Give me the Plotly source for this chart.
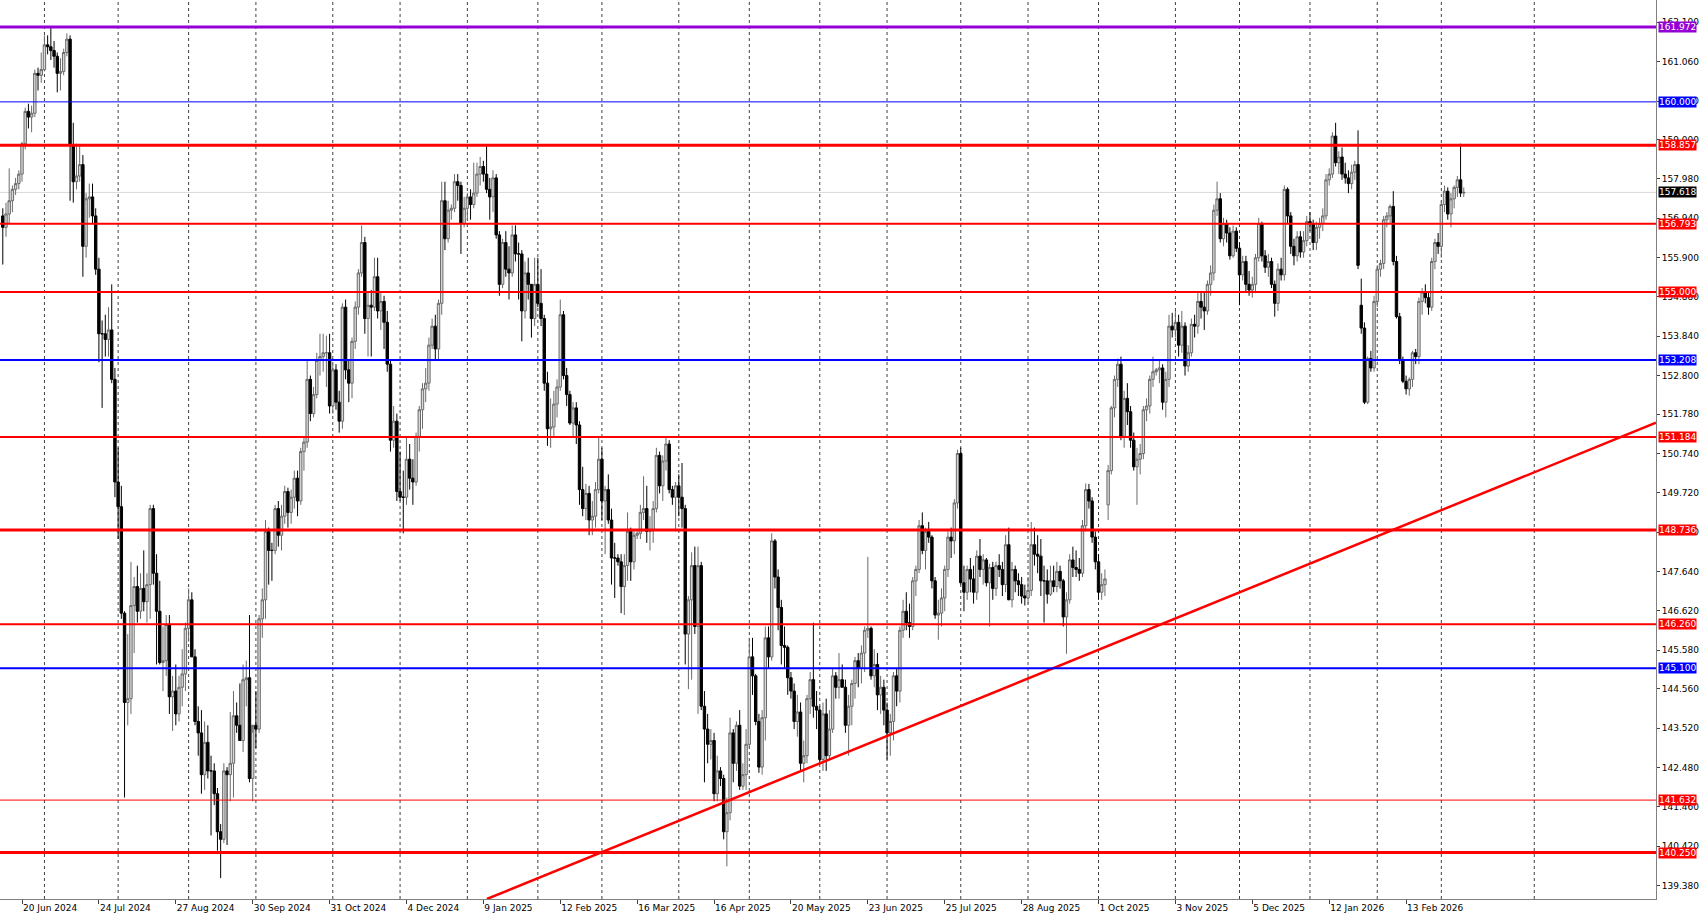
import plotly.graph_objects as go

# Daily USD/JPY bars, one tuple per bar: (open, high, low, close)
JUN_2024 = [
    (157.00, 157.20, 155.72, 156.70), (156.70, 157.35, 156.45, 157.05), (157.05, 158.25, 156.80, 157.40),
    (157.40, 157.80, 157.10, 157.70), (157.70, 158.00, 157.55, 157.85), (157.85, 158.20, 157.70, 158.10),
    (158.10, 158.95, 157.90, 158.90), (158.90, 159.85, 158.75, 159.75), (159.75, 159.95, 159.30, 159.60),
    (159.60, 159.90, 159.20, 159.70), (159.70, 160.85, 159.60, 160.75), (160.75, 160.90, 160.30, 160.70),
    (160.70, 161.30, 160.50, 160.85),
]
JUL_2024 = [
    (160.85, 161.75, 160.80, 161.50), (161.50, 161.75, 161.25, 161.45), (161.45, 161.95, 161.10, 161.35),
    (161.35, 161.60, 160.90, 161.20), (161.20, 161.30, 160.25, 160.75), (160.75, 161.15, 160.30, 160.80),
    (160.80, 161.40, 160.70, 161.30), (161.30, 161.80, 161.20, 161.65), (161.65, 161.75, 157.40, 158.85),
    (158.85, 159.45, 157.35, 157.90), (157.90, 158.90, 157.70, 158.05), (158.05, 158.85, 157.90, 158.35),
    (158.35, 158.60, 155.40, 156.20), (156.20, 157.60, 155.90, 157.45), (157.45, 157.85, 156.95, 157.50),
    (157.50, 157.85, 156.80, 157.00), (157.00, 157.20, 155.45, 155.60), (155.60, 155.90, 153.15, 153.90),
    (153.90, 154.25, 151.95, 153.90), (153.90, 154.40, 153.30, 153.75), (153.75, 154.60, 153.30, 154.00),
    (154.00, 155.20, 152.60, 152.70), (152.70, 153.00, 149.60, 150.00),
]
AUG_2024 = [
    (150.00, 150.90, 148.50, 149.35), (149.35, 149.90, 146.40, 146.55), (146.55, 146.60, 141.70, 144.20),
    (144.20, 146.00, 143.60, 144.30), (144.30, 147.90, 143.90, 146.75), (146.75, 147.50, 145.50, 147.25),
    (147.25, 147.80, 146.30, 146.60), (146.60, 147.60, 146.40, 147.20), (147.20, 148.20, 146.60, 146.85),
    (146.85, 147.60, 146.30, 147.30), (147.30, 149.40, 146.40, 149.30), (149.30, 149.40, 147.30, 147.60),
    (147.60, 148.10, 145.20, 146.60), (146.60, 147.40, 145.20, 145.25), (145.25, 146.20, 144.50, 145.30),
    (145.30, 146.50, 144.90, 146.25), (146.25, 146.50, 143.90, 144.35), (144.35, 144.90, 143.45, 144.50),
    (144.50, 145.20, 143.60, 143.90), (143.90, 144.90, 143.70, 144.60), (144.60, 145.60, 144.10, 144.95),
    (144.95, 146.30, 144.50, 146.15),
]
SEP_2024 = [
    (146.15, 147.20, 145.80, 146.90), (146.90, 147.10, 145.40, 145.40), (145.40, 145.60, 143.60, 143.70),
    (143.70, 144.10, 142.80, 143.40), (143.40, 144.00, 141.80, 142.30), (142.30, 143.70, 141.90, 143.15),
    (143.15, 143.60, 142.20, 142.40), (142.40, 142.80, 140.70, 142.40), (142.40, 142.60, 141.50, 141.80),
    (141.80, 141.95, 140.30, 140.80), (140.80, 141.00, 139.58, 140.60), (140.60, 142.60, 140.50, 142.40),
    (142.40, 142.50, 140.45, 142.30), (142.30, 143.95, 141.60, 142.60), (142.60, 144.50, 141.70, 143.85),
    (143.85, 144.20, 143.40, 143.60), (143.60, 144.70, 143.20, 143.20), (143.20, 145.20, 142.90, 144.80),
    (144.80, 145.30, 144.10, 144.85), (144.85, 146.50, 142.10, 142.20), (142.20, 143.40, 141.60, 143.60),
]
OCT_2024 = [
    (143.60, 144.50, 143.00, 143.50), (143.50, 146.50, 143.40, 146.40), (146.40, 147.20, 145.90, 146.90),
    (146.90, 149.00, 146.40, 148.70), (148.70, 148.80, 147.30, 148.20), (148.20, 148.40, 147.40, 148.20),
    (148.20, 149.40, 148.10, 149.30), (149.30, 149.50, 148.30, 148.60), (148.60, 149.40, 148.20, 149.10),
    (149.10, 149.90, 148.90, 149.75), (149.75, 149.85, 148.80, 149.20), (149.20, 149.80, 148.90, 149.60),
    (149.60, 150.30, 149.30, 150.10), (150.10, 150.30, 149.10, 149.50), (149.50, 150.90, 149.40, 150.80),
    (150.80, 151.20, 150.30, 151.05), (151.05, 153.20, 150.90, 152.70), (152.70, 152.80, 151.60, 151.80),
    (151.80, 152.50, 151.70, 152.30), (152.30, 153.40, 152.20, 153.20), (153.20, 153.90, 152.80, 153.30),
    (153.30, 153.90, 152.90, 153.40), (153.40, 153.85, 152.50, 153.40), (153.40, 153.90, 151.80, 152.00),
]
NOV_2024 = [
    (152.00, 153.10, 151.80, 152.95), (152.95, 153.10, 151.90, 152.10), (152.10, 152.40, 151.30, 151.60),
    (151.60, 154.70, 151.40, 154.60), (154.60, 154.80, 152.70, 152.95), (152.95, 153.20, 152.10, 152.60),
    (152.60, 153.80, 152.20, 153.70), (153.70, 154.75, 153.50, 154.60), (154.60, 155.60, 154.40, 155.50),
    (155.50, 156.75, 155.40, 156.30), (156.30, 156.45, 153.90, 154.30), (154.30, 155.00, 153.30, 154.65),
    (154.65, 155.05, 153.30, 154.60), (154.60, 155.90, 154.50, 155.40), (155.40, 155.90, 154.30, 154.50),
    (154.50, 155.00, 154.00, 154.75), (154.75, 154.90, 153.50, 154.20), (154.20, 154.50, 152.90, 153.10),
    (153.10, 153.20, 150.80, 151.10), (151.10, 152.00, 150.90, 151.60), (151.60, 151.80, 149.50, 149.75),
]
DEC_2024 = [
    (149.75, 150.80, 149.50, 149.60), (149.60, 150.30, 148.65, 149.60), (149.60, 151.20, 149.40, 150.60),
    (150.60, 151.00, 149.80, 150.10), (150.10, 150.60, 149.40, 150.00), (150.00, 151.30, 149.90, 151.20),
    (151.20, 152.00, 150.80, 151.90), (151.90, 152.60, 151.40, 152.45), (152.45, 153.00, 152.10, 152.60),
    (152.60, 153.80, 152.40, 153.60), (153.60, 154.30, 153.50, 154.10), (154.10, 154.40, 153.20, 153.50),
    (153.50, 154.80, 153.20, 154.70), (154.70, 157.90, 154.40, 157.40), (157.40, 157.90, 156.10, 156.40),
    (156.40, 157.40, 156.30, 157.15), (157.15, 157.30, 156.90, 157.20), (157.20, 158.10, 157.10, 157.90),
    (157.90, 158.10, 157.40, 157.80), (157.80, 157.90, 156.00, 156.80), (156.80, 157.50, 156.70, 157.20),
]
JAN_2025 = [
    (157.20, 157.60, 156.90, 157.50), (157.50, 157.70, 156.90, 157.30), (157.30, 158.40, 157.20, 157.60),
    (157.60, 158.40, 157.50, 158.10), (158.10, 158.55, 157.80, 158.30), (158.30, 158.45, 157.90, 158.10),
    (158.10, 158.87, 157.60, 157.70), (157.70, 158.00, 156.90, 157.50), (157.50, 158.20, 157.10, 158.00),
    (158.00, 158.10, 156.40, 156.50), (156.50, 156.60, 154.90, 155.20), (155.20, 156.40, 155.10, 156.30),
    (156.30, 156.60, 155.40, 155.60), (155.60, 156.20, 154.80, 155.50), (155.50, 156.75, 155.40, 156.50),
    (156.50, 156.75, 155.80, 156.00), (156.00, 156.30, 154.80, 156.00), (156.00, 156.10, 153.70, 154.50),
    (154.50, 155.80, 154.30, 155.50), (155.50, 155.90, 154.80, 155.20), (155.20, 155.20, 153.80, 154.30),
    (154.30, 155.90, 154.10, 155.20),
]
FEB_2025 = [
    (155.20, 155.90, 154.60, 154.70), (154.70, 155.60, 154.10, 154.30), (154.30, 154.40, 152.40, 152.60),
    (152.60, 152.90, 150.95, 151.40), (151.40, 152.20, 150.90, 151.45), (151.45, 152.40, 151.20, 152.05),
    (152.05, 152.70, 151.70, 152.50), (152.50, 154.80, 152.40, 154.40), (154.40, 154.50, 152.70, 152.80),
    (152.80, 153.00, 152.00, 152.30), (152.30, 152.40, 151.50, 151.55), (151.55, 152.10, 151.20, 151.95),
    (151.95, 152.10, 151.00, 151.50), (151.50, 151.60, 149.40, 149.80), (149.80, 150.40, 149.10, 149.30),
    (149.30, 149.95, 149.00, 149.70), (149.70, 149.90, 148.60, 149.00), (149.00, 149.50, 148.60, 149.10),
    (149.10, 150.00, 148.80, 149.80), (149.80, 151.20, 149.70, 150.60),
]
MAR_2025 = [
    (150.60, 150.90, 149.00, 149.50), (149.50, 149.90, 148.10, 149.80), (149.80, 150.20, 148.90, 149.00),
    (149.00, 149.30, 147.30, 148.00), (148.00, 148.40, 146.95, 148.00), (148.00, 148.10, 147.80, 147.90),
    (147.90, 148.10, 146.55, 147.25), (147.25, 148.10, 146.50, 147.80), (147.80, 149.20, 147.40, 148.70),
    (148.70, 148.80, 147.40, 147.90), (147.90, 148.70, 147.70, 148.60), (148.60, 148.70, 148.50, 148.65),
    (148.65, 149.40, 148.50, 149.20), (149.20, 150.15, 149.00, 149.30), (149.30, 149.90, 148.40, 148.70),
    (148.70, 149.10, 148.20, 148.75), (148.75, 149.50, 148.40, 149.30), (149.30, 150.90, 149.20, 150.70),
    (150.70, 150.80, 149.70, 149.90), (149.90, 150.70, 149.50, 150.55), (150.55, 151.20, 150.30, 151.00),
    (151.00, 151.10, 149.70, 149.80), (149.80, 149.90, 149.40, 149.60), (149.60, 150.00, 148.70, 149.90),
]
APR_2025 = [
    (149.90, 150.20, 149.10, 149.60), (149.60, 150.50, 148.80, 149.30), (149.30, 149.40, 145.20, 146.00),
    (146.00, 147.00, 144.55, 146.90), (146.90, 148.15, 144.80, 147.80), (147.80, 148.30, 146.00, 146.20),
    (146.20, 148.30, 143.90, 147.80), (147.80, 147.90, 144.00, 144.10), (144.10, 144.50, 142.10, 143.50),
    (143.50, 143.90, 142.60, 143.10), (143.10, 143.50, 142.70, 143.20), (143.20, 143.40, 141.60, 141.80),
    (141.80, 142.80, 141.60, 142.40), (142.40, 142.50, 142.00, 142.20), (142.20, 142.30, 140.60, 140.80),
    (140.80, 141.70, 139.89, 141.30), (141.30, 143.80, 141.10, 143.40), (143.40, 143.50, 142.10, 142.60),
    (142.60, 143.70, 142.40, 143.60), (143.60, 144.00, 141.90, 142.00), (142.00, 142.60, 141.90, 142.30),
    (142.30, 143.50, 141.90, 143.10),
]
MAY_2025 = [
    (143.10, 145.90, 143.00, 145.40), (145.40, 145.90, 144.40, 144.90), (144.90, 144.95, 143.60, 143.70),
    (143.70, 143.90, 142.35, 142.50), (142.50, 144.00, 142.30, 143.80), (143.80, 146.20, 143.20, 145.90),
    (145.90, 146.20, 145.10, 145.40), (145.40, 148.65, 145.30, 148.45), (148.45, 148.50, 147.20, 147.50),
    (147.50, 147.70, 146.10, 146.70), (146.70, 146.90, 145.20, 145.70), (145.70, 146.20, 145.10, 145.65),
    (145.65, 145.70, 144.40, 144.85), (144.85, 145.00, 144.30, 144.50), (144.50, 144.70, 143.50, 143.70),
    (143.70, 144.40, 143.30, 143.95), (143.95, 144.20, 142.40, 142.60), (142.60, 143.20, 142.10, 142.80),
    (142.80, 144.40, 142.60, 144.30), (144.30, 145.00, 143.90, 144.80), (144.80, 146.30, 143.80, 144.10),
    (144.10, 144.50, 143.50, 144.00),
]
JUN_2025 = [
    (144.00, 144.10, 142.60, 142.70), (142.70, 144.20, 142.40, 143.90), (143.90, 144.30, 142.40, 142.80),
    (142.80, 144.00, 142.70, 143.50), (143.50, 145.10, 143.40, 144.90), (144.90, 145.00, 144.30, 144.60),
    (144.60, 145.50, 144.30, 144.80), (144.80, 145.20, 144.60, 144.60), (144.60, 144.80, 143.40, 143.60),
    (143.60, 144.40, 142.80, 144.10), (144.10, 144.80, 143.60, 144.70), (144.70, 145.40, 144.30, 145.30),
    (145.30, 145.50, 144.60, 145.10), (145.10, 145.70, 144.70, 145.50), (145.50, 146.20, 145.00, 146.10),
    (146.10, 148.03, 145.90, 146.15), (146.15, 146.20, 144.80, 144.90), (144.90, 145.60, 144.60, 145.20),
    (145.20, 145.50, 144.00, 144.40), (144.40, 144.90, 143.90, 144.60), (144.60, 144.80, 143.60, 144.00),
]
JUL_2025 = [
    (144.00, 144.20, 142.70, 143.40), (143.40, 143.90, 142.80, 143.70), (143.70, 145.00, 143.20, 144.90),
    (144.90, 145.10, 144.10, 144.50), (144.50, 146.20, 144.20, 146.10), (146.10, 146.90, 145.90, 146.60),
    (146.60, 147.10, 146.10, 146.30), (146.30, 146.80, 145.90, 146.20), (146.20, 147.50, 146.10, 147.40),
    (147.40, 147.80, 147.00, 147.70), (147.70, 149.00, 147.60, 148.85), (148.85, 149.20, 148.10, 148.20),
    (148.20, 148.80, 147.70, 148.70), (148.70, 148.95, 148.40, 148.55), (148.55, 148.60, 147.20, 147.40),
    (147.40, 147.50, 146.40, 146.50), (146.50, 146.90, 145.85, 146.55), (146.55, 147.20, 146.20, 146.95),
    (146.95, 147.80, 146.60, 147.70), (147.70, 148.70, 147.50, 148.55), (148.55, 148.80, 148.00, 148.45),
    (148.45, 149.55, 148.10, 149.45), (149.45, 150.85, 149.30, 150.75),
]
AUG_2025 = [
    (150.75, 150.90, 147.30, 147.35), (147.35, 147.80, 146.60, 147.10), (147.10, 147.80, 146.90, 147.70),
    (147.70, 148.00, 147.10, 147.45), (147.45, 147.80, 146.80, 147.10), (147.10, 148.20, 146.90, 148.05),
    (148.05, 148.50, 147.50, 147.70), (147.70, 148.10, 147.30, 147.95), (147.95, 148.00, 147.25, 147.35),
    (147.35, 147.85, 146.20, 147.75), (147.75, 147.90, 146.90, 147.20), (147.20, 147.90, 147.00, 147.80),
    (147.80, 148.10, 147.50, 147.70), (147.70, 147.90, 147.00, 147.30), (147.30, 148.60, 147.10, 148.35),
    (148.35, 148.80, 146.90, 146.90), (146.90, 147.90, 146.70, 147.70), (147.70, 147.80, 147.10, 147.40),
    (147.40, 147.60, 147.00, 147.30), (147.30, 147.50, 146.80, 147.00), (147.00, 147.30, 146.75, 146.95),
]
SEP_2025 = [
    (146.95, 147.50, 146.80, 147.15), (147.15, 148.95, 147.00, 148.35), (148.35, 148.80, 147.80, 148.10),
    (148.10, 148.60, 147.60, 148.05), (148.05, 148.50, 147.00, 147.40), (147.40, 147.80, 146.30, 147.40),
    (147.40, 147.70, 146.80, 147.05), (147.05, 147.80, 147.00, 147.40), (147.40, 147.80, 147.10, 147.25),
    (147.25, 147.90, 147.10, 147.65), (147.65, 147.80, 147.20, 147.40), (147.40, 147.45, 146.20, 146.45),
    (146.45, 147.10, 145.48, 146.90), (146.90, 148.10, 146.80, 147.95), (147.95, 148.30, 147.50, 147.75),
    (147.75, 148.20, 147.50, 147.70), (147.70, 148.00, 147.40, 147.60), (147.60, 149.00, 147.50, 148.85),
    (148.85, 149.96, 148.70, 149.80), (149.80, 149.95, 149.30, 149.50), (149.50, 149.60, 148.40, 148.55),
    (148.55, 148.70, 147.70, 147.90),
]
OCT_2025 = [
    (147.90, 148.10, 146.90, 147.10), (147.10, 147.60, 146.90, 147.30), (147.30, 147.70, 147.00, 147.45),
    (149.40, 150.45, 149.00, 150.30), (150.30, 152.00, 150.20, 151.95), (151.95, 152.80, 151.70, 152.70),
    (152.70, 153.25, 152.50, 153.10), (153.10, 153.30, 151.10, 151.20), (151.20, 152.40, 150.90, 152.20),
    (152.20, 152.60, 151.50, 151.85), (151.85, 152.00, 150.90, 151.10), (151.10, 151.30, 150.30, 150.40),
    (150.40, 150.90, 149.40, 150.60), (150.60, 151.00, 150.20, 150.75), (150.75, 152.00, 150.60, 151.90),
    (151.90, 152.20, 151.60, 152.00), (152.00, 152.80, 151.80, 152.70), (152.70, 153.30, 152.50, 152.90),
    (152.90, 153.00, 152.80, 152.95), (152.95, 153.20, 152.60, 153.00), (153.00, 153.10, 151.90, 152.10),
    (152.10, 152.90, 151.70, 152.70), (152.70, 154.40, 152.50, 154.10), (154.10, 154.45, 153.80, 154.00),
]
NOV_2025 = [
    (154.00, 154.50, 153.80, 154.20), (154.20, 154.40, 153.30, 153.60), (153.60, 154.50, 153.40, 154.10),
    (154.10, 154.20, 152.80, 153.05), (153.05, 153.60, 152.90, 153.40), (153.40, 154.30, 153.30, 154.15),
    (154.15, 154.40, 153.80, 154.10), (154.10, 155.00, 153.90, 154.75), (154.75, 155.00, 154.30, 154.60),
    (154.60, 155.00, 154.00, 154.50), (154.50, 155.30, 154.40, 155.20), (155.20, 155.70, 154.90, 155.50),
    (155.50, 157.30, 155.30, 157.15), (157.15, 157.90, 157.00, 157.45), (157.45, 157.60, 156.30, 156.40),
    (156.40, 156.95, 156.20, 156.80), (156.80, 156.90, 156.30, 156.55), (156.55, 156.70, 155.85, 155.95),
    (155.95, 156.75, 155.90, 156.60), (156.60, 156.70, 156.05, 156.15),
]
DEC_2025 = [
    (156.15, 156.30, 154.65, 155.45), (155.45, 155.95, 155.30, 155.80), (155.80, 155.95, 155.00, 155.20),
    (155.20, 155.55, 154.90, 155.05), (155.05, 155.40, 154.85, 155.20), (155.20, 156.00, 155.00, 155.90),
    (155.90, 156.95, 155.80, 156.80), (156.80, 156.85, 155.80, 155.95), (155.95, 156.10, 155.50, 155.65),
    (155.65, 156.00, 155.40, 155.80), (155.80, 155.90, 155.10, 155.20), (155.20, 155.30, 154.35, 154.70),
    (154.70, 155.75, 154.50, 155.60), (155.60, 155.90, 155.30, 155.45), (155.45, 157.80, 155.30, 157.70),
    (157.70, 157.75, 156.80, 157.00), (157.00, 157.10, 156.00, 156.20), (156.20, 156.40, 155.70, 155.95),
    (155.95, 156.60, 155.80, 156.45), (156.45, 156.60, 155.90, 156.05), (156.05, 156.60, 155.90, 156.35),
    (156.35, 157.00, 156.20, 156.85),
]
JAN_2026 = [
    (156.85, 157.10, 156.60, 156.80), (156.80, 156.90, 156.10, 156.30), (156.30, 156.85, 156.10, 156.70),
    (156.70, 156.95, 156.40, 156.80), (156.80, 157.20, 156.60, 157.00), (157.00, 158.10, 156.90, 157.95),
    (157.95, 158.25, 157.80, 158.10), (158.10, 159.20, 158.00, 159.10), (159.10, 159.45, 158.30, 158.40),
    (158.40, 158.70, 158.10, 158.55), (158.55, 158.80, 157.95, 158.10), (158.10, 158.40, 157.85, 158.00),
    (158.00, 158.20, 157.60, 157.85), (157.85, 158.35, 157.70, 158.15), (158.15, 158.45, 157.95, 158.35),
    (158.35, 159.25, 155.60, 155.70), (154.65, 155.35, 153.90, 154.05), (154.05, 154.20, 152.05, 152.10),
    (152.10, 153.30, 152.05, 153.25), (153.25, 153.45, 152.90, 153.00), (153.00, 154.90, 152.90, 154.75),
]
FEB_2026 = [
    (154.75, 155.70, 154.60, 155.60), (155.60, 155.85, 155.40, 155.75), (155.75, 157.00, 155.60, 156.90),
    (156.90, 157.10, 156.70, 157.00), (157.00, 157.30, 156.80, 157.25), (157.25, 157.65, 155.70, 155.80),
    (155.80, 155.95, 154.30, 154.35), (154.35, 154.45, 153.10, 153.20), (153.20, 153.30, 152.60, 152.65),
    (152.65, 152.80, 152.30, 152.45), (152.45, 152.75, 152.27, 152.70), (152.70, 153.45, 152.50, 153.40),
    (153.40, 153.50, 153.10, 153.30), (153.30, 154.85, 153.10, 154.75), (154.75, 155.10, 154.40, 155.00),
    (155.00, 155.20, 154.70, 154.85), (154.85, 155.00, 154.40, 154.60), (154.60, 155.90, 154.50, 155.80),
    (155.80, 156.40, 155.60, 156.30), (156.30, 156.55, 156.00, 156.20),
]
MAR_2026 = [
    (156.20, 157.40, 155.90, 157.30), (157.30, 157.80, 157.10, 157.65), (157.65, 157.75, 156.90, 157.05),
    (157.05, 157.60, 156.70, 157.45), (157.45, 157.80, 157.20, 157.75), (157.75, 158.05, 157.50, 157.95),
    (157.95, 158.90, 157.50, 157.60), (157.60, 157.75, 157.50, 157.618),
]

MONTHS = [JUN_2024, JUL_2024, AUG_2024, SEP_2024, OCT_2024, NOV_2024, DEC_2024,
          JAN_2025, FEB_2025, MAR_2025, APR_2025, MAY_2025, JUN_2025, JUL_2025,
          AUG_2025, SEP_2025, OCT_2025, NOV_2025, DEC_2025, JAN_2026, FEB_2026, MAR_2026]
FIRST_BAR = -6  # bar 0 is 20 Jun 2024

# date labels, one every 24 bars starting at bar 0
TICK_LABELS = ["20 Jun 2024", "24 Jul 2024", "27 Aug 2024", "30 Sep 2024", "31 Oct 2024",
               "4 Dec 2024", "9 Jan 2025", "12 Feb 2025", "16 Mar 2025", "16 Apr 2025",
               "20 May 2025", "23 Jun 2025", "25 Jul 2025", "28 Aug 2025", "1 Oct 2025",
               "3 Nov 2025", "5 Dec 2025", "12 Jan 2026", "13 Feb 2026"]
LABEL_STEP = 24

Y_TICKS = [139.380, 140.420, 141.460, 142.480, 143.520, 144.560, 145.580, 146.620, 147.640,
           148.680, 149.720, 150.740, 151.780, 152.800, 153.840, 154.880, 155.900, 156.940,
           157.980, 159.000, 160.020, 161.060, 162.100]

LEVELS = [161.972, 160.000, 158.857, 156.793, 155.000, 153.208, 151.184, 148.736,
          146.260, 145.100, 141.632, 140.250]
LAST_PRICE = 157.618

# trend line anchors (bar index, price)
TREND_BARS = [145.1, 510.0]
TREND_PRICES = [139.03, 151.56]

# styling
PURPLE, BLUE, RED = "#9400D3", "#0000FF", "#FF0000"
LEVEL_COLORS = [PURPLE, BLUE, RED, RED, RED, BLUE, RED, RED, RED, BLUE, RED, RED]
LEVEL_WIDTHS = [3, 1, 3, 2, 2, 2, 2, 3, 2, 2, 1, 3]
FUTURE_GRID_BAR = 472
X_RANGE = [-6.87, 510.0]
Y_RANGE = [139.03, 162.68]
FONT = "DejaVu Sans"

bars = [b for m in MONTHS for b in m]
x = list(range(FIRST_BAR, FIRST_BAR + len(bars)))
opens = [b[0] for b in bars]
highs = [b[1] for b in bars]
lows = [b[2] for b in bars]
closes = [b[3] for b in bars]

# first bar of each month -> dotted vertical grid
grid_bars = []
pos = FIRST_BAR
for m in MONTHS:
    if pos != FIRST_BAR:
        grid_bars.append(pos)
    pos += len(m)
grid_bars.append(FUTURE_GRID_BAR)

fig = go.Figure()
fig.add_trace(go.Candlestick(
    x=x, open=opens, high=highs, low=lows, close=closes,
    increasing=dict(line=dict(color="#6a6a6a", width=1), fillcolor="#d8d8d8"),
    decreasing=dict(line=dict(color="#000000", width=1), fillcolor="#000000"),
    hoverinfo="skip", showlegend=False,
))
fig.add_trace(go.Scatter(
    x=TREND_BARS, y=TREND_PRICES, mode="lines",
    line=dict(color=RED, width=2.5), hoverinfo="skip", showlegend=False,
))

shapes = []
for g in grid_bars:
    shapes.append(dict(type="line", xref="x", yref="paper", x0=g, x1=g, y0=0, y1=1,
                       line=dict(color="#404040", width=1, dash="dot"), layer="below"))
shapes.append(dict(type="line", xref="paper", yref="y", x0=0, x1=1, y0=LAST_PRICE, y1=LAST_PRICE,
                   line=dict(color="#d9d9d9", width=1), layer="below"))
for lv, col, w in zip(LEVELS, LEVEL_COLORS, LEVEL_WIDTHS):
    shapes.append(dict(type="line", xref="paper", yref="y", x0=0, x1=1, y0=lv, y1=lv,
                       line=dict(color=col, width=w), layer="above"))

annotations = []
for lv, col in list(zip(LEVELS, LEVEL_COLORS)) + [(LAST_PRICE, "#000000")]:
    annotations.append(dict(
        x=1, xref="paper", y=lv, yref="y", xanchor="left", yanchor="middle", xshift=2,
        text=f"{lv:.3f}", showarrow=False, bgcolor=col, borderpad=0,
        font=dict(family=FONT, size=9, color="#FFFFFF"),
    ))

fig.update_layout(
    width=1699, height=915,
    margin=dict(l=0, r=43, t=0, b=16),
    plot_bgcolor="#FFFFFF", paper_bgcolor="#FFFFFF",
    shapes=shapes, annotations=annotations,
    boxgap=0.25, boxgroupgap=0,
    showlegend=False,
    font=dict(family=FONT, size=9, color="#000000"),
)
fig.update_xaxes(
    range=X_RANGE, rangeslider_visible=False, showgrid=False, zeroline=False,
    tickvals=[i * LABEL_STEP for i in range(len(TICK_LABELS))], ticktext=TICK_LABELS,
    ticks="outside", ticklen=4, tickcolor="#404040", ticklabelposition="outside right",
    showline=True, linecolor="#808080", linewidth=1, automargin=False,
    tickfont=dict(family=FONT, size=9, color="#000000"),
)
fig.update_yaxes(
    range=Y_RANGE, side="right", showgrid=False, zeroline=False,
    tickvals=Y_TICKS, ticktext=[f"{t:.3f}" for t in Y_TICKS],
    ticks="outside", ticklen=3, tickcolor="#404040",
    showline=True, linecolor="#808080", linewidth=1, automargin=False,
    tickfont=dict(family=FONT, size=9, color="#000000"),
)

fig.write_html("out.html", config={"displayModeBar": False},
               post_script="document.body.style.margin='0';")
